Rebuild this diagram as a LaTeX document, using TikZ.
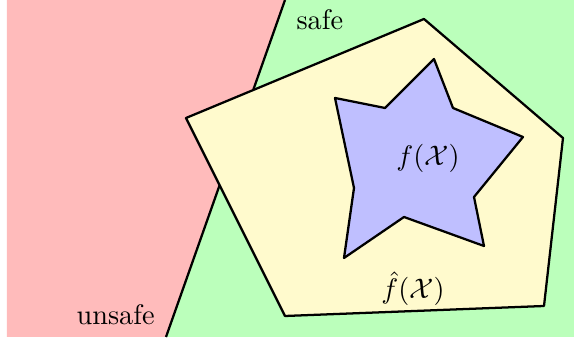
\documentclass[tikz,border=0pt]{standalone}
\usepackage{amsmath,amssymb}
\usepackage{tikz}
\usetikzlibrary{positioning}
\definecolor{unsafered}{RGB}{255,187,187}
\definecolor{safegreen}{RGB}{187,255,187}
\definecolor{approxyellow}{RGB}{255,250,205}
\definecolor{reachblue}{RGB}{191,191,255}
\tikzset{
  region/.style={draw=none},
  border/.style={draw=black,thick,line join=round},
  hullset/.style={border,fill=approxyellow},
  starset/.style={border,fill=reachblue},
  setlabel/.style={inner sep=0pt,anchor=base}
}
\begin{document}
\begin{tikzpicture}[x=0.3533pt,y=-0.3533pt]
  \useasboundingbox (0,0) rectangle (574,339);
  % half-planes
  \coordinate (cuttop) at (285,0);
  \coordinate (cutbot) at (166,337);
  \fill[region,unsafered] (7,0) -- (cuttop) -- (cutbot) -- (7,337) -- cycle;
  \fill[region,safegreen] (cuttop) -- (574,0) -- (574,337) -- (cutbot) -- cycle;
  \draw[border] (cuttop) -- (cutbot);
  % over-approximation
  \draw[hullset] (186,118) -- (424,19) -- (563,138) -- (544,306) -- (285,316) -- cycle;
  % exact image
  \draw[starset] (434,59) -- (453,108) -- (523,137) -- (474,197) -- (484,246)
    -- (404,217) -- (344,258) -- (354,188) -- (335,98) -- (385,108) -- cycle;
  \node[setlabel,anchor=base west] (safe) at (296,30) {safe};
  \node[setlabel,anchor=base west] (unsafe) at (76,325) {unsafe};
  \node[setlabel] (exact) at (428,166) {$f(\mathcal{X})$};
  \node[setlabel] (approx) at (413,299) {$\hat{f}(\mathcal{X})$};
\end{tikzpicture}
\end{document}
